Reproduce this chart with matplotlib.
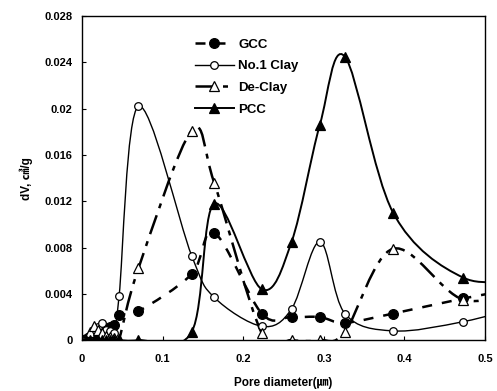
import numpy as np
import matplotlib
matplotlib.use('Agg')
import matplotlib.pyplot as plt
from matplotlib.path import Path
from matplotlib.patches import PathPatch
from matplotlib.lines import Line2D

plt.rcParams['font.family'] = ['Liberation Sans', 'Noto Sans CJK JP', 'DejaVu Sans']
plt.rcParams['font.weight'] = 'bold'

# pore diameter (um)
diam = [0.005, 0.01, 0.015, 0.02, 0.025, 0.03, 0.035, 0.04, 0.046, 0.07,
        0.136, 0.164, 0.223, 0.26, 0.295, 0.326, 0.386, 0.473, 0.55]

gcc = [0.0001, 0.0003, 0.0005, 0.0006, 0.0008, 0.0009, 0.0011, 0.0013, 0.0022, 0.0025,
       0.0057, 0.0093, 0.0023, 0.0020, 0.0020, 0.0015, 0.0023, 0.0036, 0.0046]
clay = [0.0001, 0.0004, 0.0008, 0.0011, 0.0015, 0.0009, 0.0008, 0.0006, 0.0038, 0.0202,
        0.0073, 0.0037, 0.0012, 0.0027, 0.0085, 0.0023, 0.0008, 0.0016, 0.0030]
declay = [0.0002, 0.0007, 0.0012, 0.0009, 0.0006, 0.0004, 0.0003, 0.0002, 0.0001, 0.0062,
          0.0181, 0.0136, 0.0006, 0.0000, 0.0000, 0.0007, 0.0079, 0.0035, 0.0046]
pcc = [0.0, 0.0, 0.0, 0.0, 0.0, 0.0, 0.0, 0.0, 0.0, 0.0,
       0.0007, 0.0118, 0.0044, 0.0085, 0.0186, 0.0245, 0.0110, 0.0054, 0.0055]

series = [
    ('GCC', gcc, dict(ls=(0, (4, 4)), lw=1.8), dict(marker='o', mfc='black', ms=7)),
    ('No.1 Clay', clay, dict(ls='-', lw=1.0), dict(marker='o', mfc='white', ms=5.5)),
    ('De-Clay', declay, dict(ls=(0, (8, 3, 2, 3)), lw=1.8), dict(marker='^', mfc='white', ms=6.5)),
    ('PCC', pcc, dict(ls='-', lw=1.4), dict(marker='^', mfc='black', ms=6.5)),
]


def smooth_path(x, y):
    # Excel-like smoothed line as cubic Bezier segments through the points
    x = np.asarray(x, float)
    y = np.asarray(y, float)
    n = len(x)
    verts = [(x[0], y[0])]
    codes = [Path.MOVETO]
    for i in range(n - 1):
        x0, y0 = (x[i - 1], y[i - 1]) if i > 0 else (x[i], y[i])
        x3, y3 = (x[i + 2], y[i + 2]) if i + 2 < n else (x[i + 1], y[i + 1])
        c1 = (x[i] + (x[i + 1] - x0) / 6, y[i] + (y[i + 1] - y0) / 6)
        c2 = (x[i + 1] - (x3 - x[i]) / 6, y[i + 1] - (y3 - y[i]) / 6)
        verts += [c1, c2, (x[i + 1], y[i + 1])]
        codes += [Path.CURVE4] * 3
    return Path(verts, codes)


fig = plt.figure(figsize=(4.97, 3.91), dpi=100)
ax = fig.add_axes([0.165, 0.130, 0.811, 0.829])

handles = []
for name, vals, lstyle, mstyle in series:
    patch = PathPatch(smooth_path(diam, vals), fill=False, edgecolor='black',
                      linestyle=lstyle['ls'], linewidth=lstyle['lw'], capstyle='butt')
    ax.add_patch(patch)
    ax.plot(diam, vals, ls='none', color='black', mec='black', mew=0.9, **mstyle)
    handles.append(Line2D([], [], color='black', linestyle=lstyle['ls'],
                          linewidth=lstyle['lw'], mec='black', mew=0.9, **mstyle))

ax.set_xlim(0, 0.5)
ax.set_ylim(0, 0.028)
ax.set_xticks([0, 0.1, 0.2, 0.3, 0.4, 0.5])
ax.set_xticklabels(['0', '0.1', '0.2', '0.3', '0.4', '0.5'])
ax.set_yticks(np.arange(0, 0.0281, 0.004))
ax.set_yticklabels(['0', '0.004', '0.008', '0.012', '0.016', '0.02', '0.024', '0.028'])
ax.tick_params(direction='in', length=3, labelsize=8)
ax.tick_params(axis='x', pad=10)
ax.tick_params(axis='y', pad=7)
for lab in ax.get_xticklabels() + ax.get_yticklabels():
    lab.set_fontweight('bold')
for sp in ax.spines.values():
    sp.set_linewidth(1.0)

ax.set_xlabel('Pore diameter(㎛)', fontsize=8.5, fontweight='bold', labelpad=9)
ax.set_ylabel('dV, ㎤/g', fontsize=8.5, fontweight='bold', labelpad=8)

leg = ax.legend(handles=handles, labels=[s[0] for s in series], loc='upper left',
                bbox_to_anchor=(0.25, 0.968), frameon=False, fontsize=9.5,
                handlelength=3.0, handletextpad=0.3, labelspacing=0.72)
for t in leg.get_texts():
    t.set_fontweight('bold')

fig.savefig('out.png', dpi=100)
